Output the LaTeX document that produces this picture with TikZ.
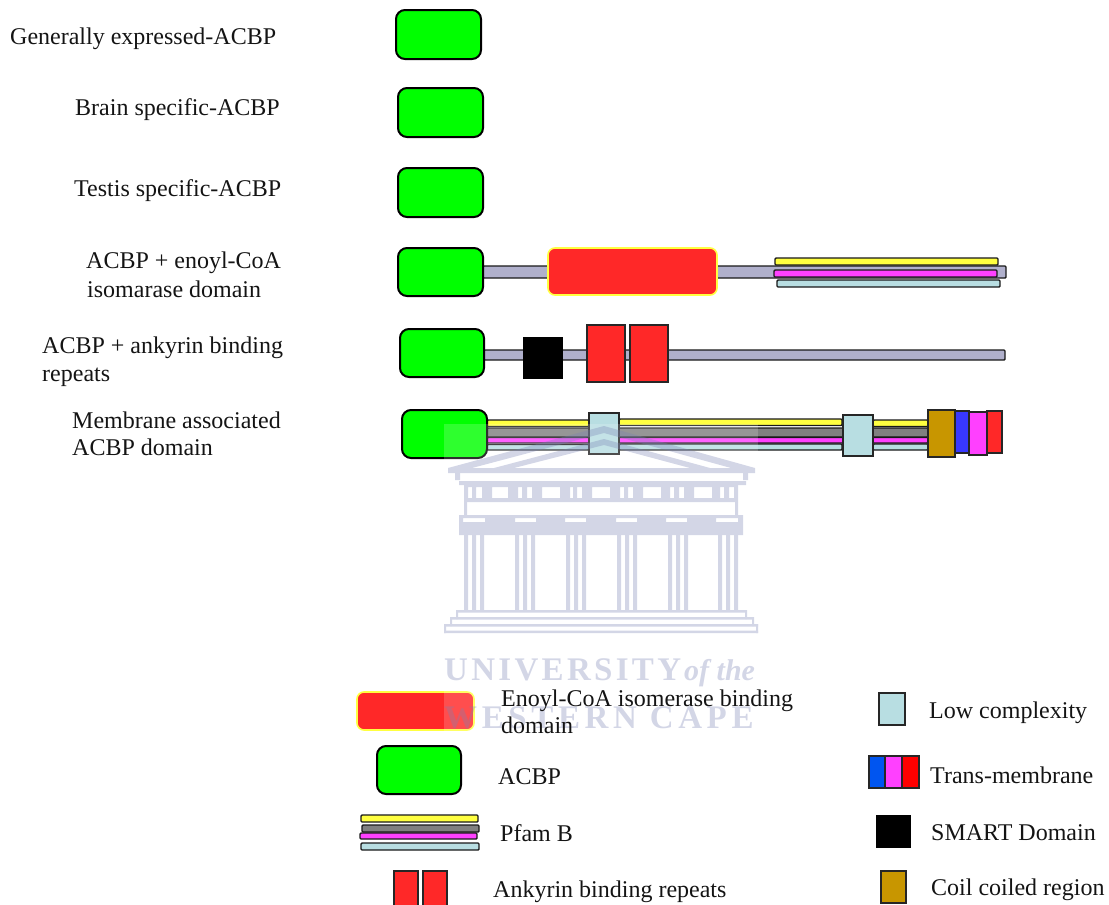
\documentclass[tikz,border=0pt]{standalone}
\usepackage{fontspec}
\setmainfont{Liberation Serif}
\definecolor{acbp}{HTML}{00FF00}
\definecolor{enoyl}{HTML}{FF2828}
\definecolor{bone}{HTML}{B0B0CC}
\definecolor{lowc}{HTML}{B8DEE2}
\definecolor{yel}{HTML}{FFFF40}
\definecolor{mag}{HTML}{FF40FF}
\definecolor{gry}{HTML}{808080}
\definecolor{coil}{HTML}{C89600}
\definecolor{blu}{HTML}{3838FF}
\definecolor{wm}{HTML}{7A82B4}
\tikzset{
  x=1pt,y=-1pt,
  lab/.style={font=\fontsize{24}{28}\selectfont,inner sep=0pt,anchor=base west,text=black!92},
  acbpbox/.style={draw=black,line width=2pt,fill=acbp,rounded corners=9pt},
  enoylbox/.style={draw=yel,line width=1.6pt,fill=enoyl,rounded corners=7pt},
  bar/.style={draw=black!90,line width=1.4pt,rounded corners=1pt},
  blockbox/.style={draw=black!85,line width=1.8pt},
  wmfill/.style={fill=wm,draw=none},
  wmtext/.style={text=wm,inner sep=0pt,anchor=base west}
}
\begin{document}
\begin{tikzpicture}
\useasboundingbox (0,0) rectangle (1109,905);
% ---- backbones
\draw[bar,fill=bone] (483,266) rectangle (1006,278);
\draw[bar,fill=bone] (484,350) rectangle (1005,360);
% ---- row 6 bars
\draw[bar,fill=gry] (487,428) rectangle (928,437);
\draw[bar,fill=yel] (487,420) rectangle (589,426.5);
\draw[bar,fill=yel] (619,419) rectangle (842,425.5);
\draw[bar,fill=yel] (873,420) rectangle (928,426.5);
\draw[bar,fill=mag] (487,437.5) rectangle (928,443);
\draw[bar,fill=lowc] (487,444.5) rectangle (589,450);
\draw[bar,fill=lowc] (619,444) rectangle (842,450);
\draw[bar,fill=lowc] (873,444) rectangle (928,450);
% ---- green ACBP
\draw[acbpbox] (396,10) rectangle (481,59);
\draw[acbpbox] (398,88) rectangle (483,137);
\draw[acbpbox] (398,168) rectangle (483,217);
\draw[acbpbox] (398,248) rectangle (483,296);
\draw[acbpbox] (400,329) rectangle (484,377);
\draw[acbpbox] (402,410) rectangle (487,458);
% ---- row 4
\draw[enoylbox] (548,248) rectangle (717,295);
\draw[bar,fill=yel] (775,258) rectangle (998,265);
\draw[bar,fill=mag] (774,270) rectangle (997,277);
\draw[bar,fill=lowc] (777,280) rectangle (1000,287);
% ---- row 5
\fill[black] (523,337) rectangle (563,379);
\draw[blockbox,fill=enoyl] (587,325) rectangle (625,382);
\draw[blockbox,fill=enoyl] (630,325) rectangle (668,382);
% ---- row 6 blocks
\draw[blockbox,fill=lowc] (589,413) rectangle (619,454);
\draw[blockbox,fill=lowc] (843,415) rectangle (873,456);
\draw[blockbox,fill=blu] (954,411) rectangle (969,453);
\draw[blockbox,fill=mag] (969,412) rectangle (987,455);
\draw[blockbox,fill=enoyl] (987,411) rectangle (1002,453);
\draw[blockbox,line width=2.2pt,fill=coil] (928,410) rectangle (955,457);
% ---- legend
\draw[enoylbox] (357,692) rectangle (474,730);
\draw[acbpbox] (377,746) rectangle (461,794);
\draw[bar,fill=yel] (361,815) rectangle (478,822);
\draw[bar,fill=gry] (362,825) rectangle (479,832);
\draw[bar,fill=mag] (360,833) rectangle (477,839);
\draw[bar,fill=lowc] (361,843) rectangle (479,850);
\draw[blockbox,fill=enoyl] (394,871) rectangle (418,906);
\draw[blockbox,fill=enoyl] (423,871) rectangle (447,906);
\draw[blockbox,fill=lowc] (879,693) rectangle (905,725);
\draw[blockbox,fill={rgb,255:red,0;green,85;blue,240}] (869,756) rectangle (885,788);
\draw[blockbox,fill=mag] (885,756) rectangle (902,788);
\draw[blockbox,fill=red] (902,756) rectangle (919,788);
\fill[black] (876,815) rectangle (911,848);
\draw[blockbox,fill=coil] (881,871) rectangle (906,903);
% ---- watermark wash
\fill[white,opacity=.18] (444,424) rectangle (758,733);
% ---- watermark building
\begin{scope}[transparency group,opacity=.33]
  \fill[wmfill,even odd rule] (448,468) -- (604,426) -- (755,468) -- (755,473) -- (448,473) -- cycle
     (472,468) -- (604,433) -- (731,468) -- cycle;
  \fill[wmfill,even odd rule] (494,468) -- (604,439) -- (710,468) -- cycle
     (514,468) -- (604,445) -- (690,468) -- cycle;
  \fill[wmfill] (455,473) rectangle (460,480) (743,473) rectangle (748,480);
  \fill[wmfill] (459,481) rectangle (746,485);
  \fill[wmfill,even odd rule] (464,485) rectangle (738,502)
     (492,487) rectangle (508,498) (542,487) rectangle (560,498)
     (592,487) rectangle (610,498) (643,487) rectangle (661,498)
     (694,487) rectangle (712,498)
     (468,487) rectangle (472,498) (476,487) rectangle (482,498)
     (518,487) rectangle (522,498) (527,487) rectangle (532,498)
     (570,487) rectangle (573,498) (577,487) rectangle (582,498)
     (620,487) rectangle (624,498) (628,487) rectangle (633,498)
     (670,487) rectangle (674,498) (679,487) rectangle (684,498)
     (720,487) rectangle (724,498) (729,487) rectangle (734,498);
  \fill[wmfill] (464,502) rectangle (467,515) (735,502) rectangle (738,515);
  \fill[wmfill,even odd rule] (459,515) rectangle (743,535)
     (463,518) rectangle (485,522) (515,518) rectangle (536,522)
     (565,518) rectangle (586,522) (616,518) rectangle (637,522)
     (666,518) rectangle (687,522) (716,518) rectangle (738,522);
  \foreach \cx in {474,525,576,627,678,728}{
    \fill[wmfill] (\cx-10,524) rectangle (\cx-6,610);
    \fill[wmfill] (\cx-2,535) rectangle (\cx+2,610);
    \fill[wmfill] (\cx+6,524) rectangle (\cx+10,610);
  }
  \fill[wmfill] (458,610) rectangle (745,612.5);
  \fill[wmfill] (452,617) rectangle (752,619.5);
  \fill[wmfill] (444,624) rectangle (758,626.5);
  \fill[wmfill] (444,630.5) rectangle (758,633);
  \fill[wmfill] (456,610) rectangle (458,619) (450,617) rectangle (452,626) (444,624) rectangle (446,633);
  \fill[wmfill] (745,610) rectangle (747,619) (752,617) rectangle (754,626) (756,624) rectangle (758,633);
  \node[wmtext] (wmuni) at (444,680) {\fontsize{33}{33}\selectfont\bfseries\addfontfeatures{LetterSpace=10}UNIVERSITY};
  \node[wmtext] (wmof) at (684,680) {\fontsize{30}{30}\selectfont\bfseries\itshape of the};
  \node[wmtext] (wmwest) at (444,728) {\fontsize{33}{33}\selectfont\bfseries\addfontfeatures{LetterSpace=14}WESTERN CAPE};
\end{scope}
% ---- labels
\node[lab] (l1) at (10,44) {Generally expressed-ACBP};
\node[lab] (l2) at (75,115) {Brain specific-ACBP};
\node[lab] (l3) at (74,196) {Testis specific-ACBP};
\node[lab] (l4a) at (86,268) {ACBP + enoyl-CoA};
\node[lab] (l4b) at (87,297) {isomarase domain};
\node[lab] (l5a) at (42,353) {ACBP + ankyrin binding};
\node[lab] (l5b) at (42,381) {repeats};
\node[lab] (l6a) at (72,428) {Membrane associated};
\node[lab] (l6b) at (72,455) {ACBP domain};
\node[lab] (k1a) at (501,706) {Enoyl-CoA isomerase binding};
\node[lab] (k1b) at (501,733) {domain};
\node[lab] (k2) at (498,784) {ACBP};
\node[lab] (k3) at (500,841) {Pfam B};
\node[lab] (k4) at (493,897) {Ankyrin binding repeats};
\node[lab] (k5) at (929,718) {Low complexity};
\node[lab] (k6) at (930,783) {Trans-membrane};
\node[lab] (k7) at (931,840) {SMART Domain};
\node[lab] (k8) at (931,895) {Coil coiled region};
\end{tikzpicture}
\end{document}
